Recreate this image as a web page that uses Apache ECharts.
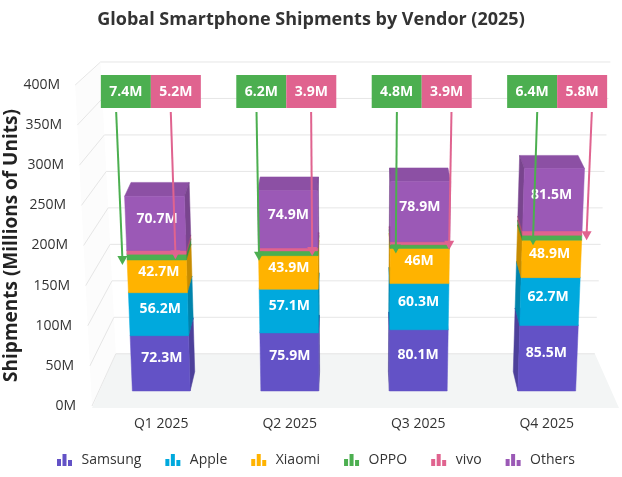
<!DOCTYPE html>
<html>
<head>
<meta charset="utf-8">
<script src="https://cdn.jsdelivr.net/npm/echarts@6/dist/echarts.min.js"></script>
<style>
  html, body { margin: 0; padding: 0; background: #fff; }
  #chart { width: 622px; height: 477px; }
</style>
</head>
<body>
<div id="chart"></div>
<script>
// data
var quarters = ['Q1 2025', 'Q2 2025', 'Q3 2025', 'Q4 2025'];
var samsung = [72.3, 75.9, 80.1, 85.5];
var apple = [56.2, 57.1, 60.3, 62.7];
var xiaomi = [42.7, 43.9, 46, 48.9];
var oppo = [7.4, 6.2, 4.8, 6.4];
var vivo = [5.2, 3.9, 3.9, 5.8];
var others = [70.7, 74.9, 78.9, 81.5];
var yTicks = [0, 50, 100, 150, 200, 250, 300, 350, 400];

var vendors = [
  { name: 'Samsung', values: samsung, color: '#6352c6', label: true },
  { name: 'Apple', values: apple, color: '#00a9dd', label: true },
  { name: 'Xiaomi', values: xiaomi, color: '#ffb300', label: true },
  { name: 'OPPO', values: oppo, color: '#4caf50', label: false },
  { name: 'vivo', values: vivo, color: '#e0638f', label: false },
  { name: 'Others', values: others, color: '#9b59b6', label: true }
];

// 3d look
var SPREAD = 0.00018;   // verticals lean outwards going up
var VY = -300;          // vanishing point height
var BAR_DEPTH = 0.028;
var CALLOUT_DEPTH = -0.04;
var WALL_DEPTH = 0.091;
var WALL_VY = -168;
var FONT = "'Open Sans', 'Noto Sans', sans-serif";

function shade(hex, f) {
  var n = parseInt(hex.slice(1), 16);
  var r = Math.round(((n >> 16) & 255) * (1 - f));
  var g = Math.round(((n >> 8) & 255) * (1 - f));
  var b = Math.round((n & 255) * (1 - f));
  return 'rgb(' + r + ',' + g + ',' + b + ')';
}

function fmt(v) { return v + 'M'; }

// stack bases
var bases = [];
var run = quarters.map(function () { return 0; });
vendors.forEach(function (vd, i) {
  bases[i] = run.slice();
  vd.values.forEach(function (v, k) { run[k] += v; });
});

function centerX(api) {
  return (api.coord([0, 0])[0] + api.coord([quarters.length - 1, 0])[0]) / 2;
}

function projector(api, spread, vy, cx) {
  var y0 = api.coord([0, 0])[1];
  return function (x, y, d) {
    var s = 1 + spread * (y0 - y);
    var px = cx + (x - cx) * s;
    return [px + d * (cx - px), y + d * (vy - y)];
  };
}

function barItem(vd) {
  return function (params, api) {
    var ci = api.value(0), base = api.value(1), val = api.value(2);
    var cx = centerX(api);
    var P = projector(api, SPREAD, VY, cx);
    var c = api.coord([ci, 0]);
    var w = api.size([1, 0])[0] * 0.45;
    var xl = c[0] - w / 2, xr = c[0] + w / 2;
    var yb = api.coord([ci, base])[1];
    var yt = api.coord([ci, base + val])[1];
    var d = BAR_DEPTH;
    var kids = [];
    var top = shade(vd.color, 0.1), side = shade(vd.color, 0.22);
    kids.push({ type: 'polygon', shape: { points: [P(xl, yt, 0), P(xr, yt, 0), P(xr, yt, d), P(xl, yt, d)] },
      style: { fill: top, stroke: top, lineWidth: 0.5 } });
    var fr = P(xr, yt, 0), br = P(xr, yt, d);
    if (br[0] > fr[0]) {
      kids.push({ type: 'polygon', shape: { points: [P(xr, yb, 0), P(xr, yt, 0), P(xr, yt, d), P(xr, yb, d)] },
        style: { fill: side, stroke: side, lineWidth: 0.5 } });
    }
    var fl = P(xl, yt, 0), bl = P(xl, yt, d);
    if (bl[0] < fl[0]) {
      kids.push({ type: 'polygon', shape: { points: [P(xl, yb, 0), P(xl, yt, 0), P(xl, yt, d), P(xl, yb, d)] },
        style: { fill: side, stroke: side, lineWidth: 0.5 } });
    }
    kids.push({ type: 'polygon', shape: { points: [P(xl, yb, 0), P(xr, yb, 0), P(xr, yt, 0), P(xl, yt, 0)] },
      style: { fill: vd.color, stroke: vd.color, lineWidth: 0.5 } });
    if (vd.label) {
      var m = P(c[0], (yb + yt) / 2, d * 0.3);
      kids.push({ type: 'text', z2: 20, style: { text: fmt(val), x: m[0], y: m[1], align: 'center', verticalAlign: 'middle',
        fill: '#fff', font: 'bold 14px ' + FONT } });
    }
    return { type: 'group', children: kids };
  };
}

function calloutItem(params, api) {
  var ci = api.value(0);
  var cx = centerX(api);
  var y0 = api.coord([0, 0])[1];
  var c = api.coord([ci, 0]);
  var boxTop = api.coord([ci, 400])[1] - 10, boxH = 33, boxW = 50;
  var sBox = 1 + SPREAD * (y0 - (boxTop + boxH / 2));
  var pc = cx + (c[0] - cx) * sBox;
  var Q = function (x, y) {
    var s = 1 + SPREAD * (y0 - y);
    var px = cx + (x - cx) * s;
    return [px + CALLOUT_DEPTH * (cx - px), y];
  };
  var kids = [];
  var items = [
    { val: api.value(2), base: api.value(1), color: vendors[3].color, bx: pc - boxW, ax: c[0] - 25 },
    { val: api.value(4), base: api.value(3), color: vendors[4].color, bx: pc, ax: c[0] + 25 }
  ];
  items.forEach(function (it) {
    kids.push({ type: 'rect', shape: { x: it.bx, y: boxTop, width: boxW, height: boxH }, style: { fill: it.color } });
    kids.push({ type: 'text', style: { text: fmt(it.val), x: it.bx + boxW / 2, y: boxTop + boxH / 2 + 1, align: 'center',
      verticalAlign: 'middle', fill: '#fff', font: 'bold 14px ' + FONT } });
    var tipY = api.coord([ci, it.base])[1] + 5;
    var a = Q(it.ax, boxTop + boxH + 4), b = Q(it.ax, tipY);
    kids.push({ type: 'line', shape: { x1: a[0], y1: a[1], x2: b[0], y2: b[1] - 6 }, style: { stroke: it.color, lineWidth: 2 } });
    kids.push({ type: 'polygon', shape: { points: [[b[0] - 5, b[1] - 9], [b[0] + 5, b[1] - 9], [b[0], b[1]]] }, style: { fill: it.color } });
  });
  return { type: 'group', children: kids };
}

function frameItem(params, api) {
  var v = api.value(1);
  var cx = centerX(api);
  var band = api.size([1, 0])[0];
  var xL = api.coord([0, 0])[0] - band / 2 - 5;
  var xR = api.coord([quarters.length - 1, 0])[0] + band / 2 + 8;
  var P = projector(api, 0.0002, WALL_VY, cx);
  function edge(x, val) {
    var y = api.coord([0, val])[1];
    return { f: P(x, y, 0), b: P(x, y, WALL_DEPTH) };
  }
  var kids = [];
  if (params.dataIndex === 0) {
    var l0 = edge(xL, 0), r0 = edge(xR, 0), lt = edge(xL, 400);
    kids.push({ type: 'polygon', shape: { points: [l0.f, lt.f, lt.b, l0.b] }, style: { fill: '#fcfcfc' } });
    kids.push({ type: 'polygon', shape: { points: [[l0.f[0], l0.f[1] + 2], [r0.f[0], r0.f[1] + 2], r0.b, l0.b] },
      style: { fill: '#f3f5f5' } });
  }
  var l = edge(xL, v), r = edge(xR, v);
  kids.push({ type: 'line', shape: { x1: l.b[0], y1: l.b[1], x2: r.b[0], y2: r.b[1] }, style: { stroke: '#e6e6e6', lineWidth: 1 } });
  kids.push({ type: 'line', shape: { x1: l.f[0], y1: l.f[1], x2: l.b[0], y2: l.b[1] }, style: { stroke: '#e6e6e6', lineWidth: 1 } });
  return { type: 'group', children: kids };
}

var chart = echarts.init(document.getElementById('chart'));

var labelRich = {};
yTicks.forEach(function (v) { labelRich['p' + v] = { padding: [0, Math.round(16 * v / 400), 0, 0] }; });

var series = [{
  type: 'custom', name: 'frame', xAxisIndex: 0, yAxisIndex: 0, z: 1, silent: true,
  renderItem: frameItem, data: yTicks.map(function (v) { return [0, v]; })
}];
vendors.forEach(function (vd, i) {
  series.push({
    type: 'custom', name: vd.name, xAxisIndex: 1, yAxisIndex: 1, z: 2,
    itemStyle: { color: vd.color },
    renderItem: barItem(vd),
    encode: { x: 0, y: 2 },
    data: vd.values.map(function (v, k) { return [k, bases[i][k], v]; })
  });
});
series.push({
  type: 'custom', name: 'callouts', xAxisIndex: 1, yAxisIndex: 1, z: 5, silent: true,
  renderItem: calloutItem,
  encode: { x: 0, y: 2 },
  data: quarters.map(function (q, k) { return [k, bases[3][k], oppo[k], bases[4][k], vivo[k]]; })
});

chart.setOption({
  animation: false,
  textStyle: { fontFamily: FONT },
  title: {
    text: 'Global Smartphone Shipments by Vendor (2025)',
    left: 'center', top: 6,
    textStyle: { fontSize: 18, fontWeight: 'bold', color: '#333' }
  },
  legend: {
    data: vendors.map(function (v) { return v.name; }),
    bottom: 5, left: 52,
    itemWidth: 16, itemHeight: 12, itemGap: 24,
    icon: 'path://M0,5H4V12H0Z M5.5,0H9.5V12H5.5Z M11,6H15V12H11Z',
    textStyle: { fontSize: 14, color: '#333', padding: [0, 0, 0, 4] }
  },
  grid: [
    { left: 97, right: 11, top: 85, bottom: 71, outerBoundsMode: 'none' },
    { left: 97, right: 11, top: 85, bottom: 86, outerBoundsMode: 'none' }
  ],
  xAxis: [
    { type: 'category', gridIndex: 0, data: quarters, show: false },
    { type: 'category', gridIndex: 1, data: quarters,
      axisLine: { show: false }, axisTick: { show: false },
      axisLabel: { fontSize: 14, color: '#333', margin: 26 } }
  ],
  yAxis: [
    { type: 'value', gridIndex: 0, min: 0, max: 400, interval: 50,
      axisLine: { show: false }, axisTick: { show: false }, splitLine: { show: false },
      axisLabel: { margin: 21, fontSize: 14, color: '#333',
        formatter: function (v) { return '{p' + v + '|' + v + 'M}'; }, rich: labelRich },
      name: 'Shipments (Millions of Units)', nameLocation: 'middle', nameGap: 76, nameMoveOverlap: false,
      nameTextStyle: { fontSize: 19, fontWeight: 'bold', color: '#222' } },
    { type: 'value', gridIndex: 1, min: 0, max: 400, interval: 50, show: false }
  ],
  series: series
});
</script>
</body>
</html>
